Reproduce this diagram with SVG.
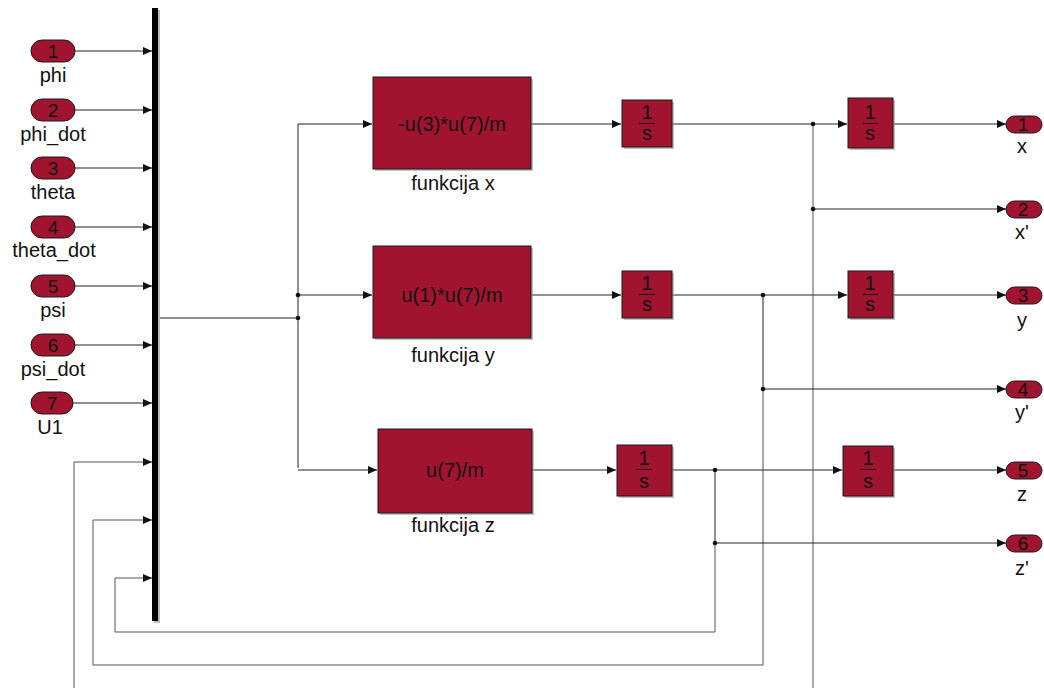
<svg xmlns="http://www.w3.org/2000/svg" width="1044" height="688" viewBox="0 0 1044 688">
<style>
.blk{fill:#A01430;stroke:#1a1a1a;stroke-width:1}
.sh{fill:#9a9a9a;opacity:0.6}
.port{fill:#A01430;stroke:#1a1a1a;stroke-width:1}
.t{font-family:"Liberation Sans",Arial,sans-serif;fill:#111;text-anchor:middle}
.bt{font-size:20px}
.lb{font-size:20px}
.pn{font-size:19px}
.fr{font-size:20px}
.ln{fill:none;stroke:#222;stroke-width:1}
.fb{fill:none;stroke:#555;stroke-width:1}
.dot{fill:#111}
</style>
<defs>
<marker id="ar" markerWidth="9" markerHeight="8" refX="9" refY="4" orient="auto" markerUnits="userSpaceOnUse">
<path d="M0,0 L9,4 L0,8 Z" fill="#111"/>
</marker>
</defs>
<rect width="1044" height="688" fill="#fff"/>

<g id="connectors">
<path class="ln" d="M75,51 H152" marker-end="url(#ar)"/>
<path class="ln" d="M75,110 H152" marker-end="url(#ar)"/>
<path class="ln" d="M75,168 H152" marker-end="url(#ar)"/>
<path class="ln" d="M75,227 H152" marker-end="url(#ar)"/>
<path class="ln" d="M75,286 H152" marker-end="url(#ar)"/>
<path class="ln" d="M75,345 H152" marker-end="url(#ar)"/>
<path class="ln" d="M73,403 H152" marker-end="url(#ar)"/>
<path class="fb" d="M74,688 V462 H152" marker-end="url(#ar)"/>
<path class="fb" d="M763,389 V665 H93 V520 H152" marker-end="url(#ar)"/>
<path class="fb" d="M715,543 V632 H115 V578 H152" marker-end="url(#ar)"/>
<path class="ln" d="M158,318 H298"/>
<path class="ln" d="M298,124 V468"/>
<path class="ln" d="M298,124 H372" marker-end="url(#ar)"/>
<path class="ln" d="M298,295 H372" marker-end="url(#ar)"/>
<path class="ln" d="M298,470 H377" marker-end="url(#ar)"/>
<path class="ln" d="M531,124 H621" marker-end="url(#ar)"/>
<path class="ln" d="M531,295 H621" marker-end="url(#ar)"/>
<path class="ln" d="M531,470 H616" marker-end="url(#ar)"/>
<path class="ln" d="M672,124 H847" marker-end="url(#ar)"/>
<path class="ln" d="M672,295 H847" marker-end="url(#ar)"/>
<path class="ln" d="M672,470 H842" marker-end="url(#ar)"/>
<path class="fb" d="M813,124 V688"/>
<path class="ln" d="M813,209 H1006" marker-end="url(#ar)"/>
<path class="ln" d="M763,295 V389 H1006" marker-end="url(#ar)"/>
<path class="ln" d="M715,470 V543 H1006" marker-end="url(#ar)"/>
<path class="ln" d="M893,124 H1006" marker-end="url(#ar)"/>
<path class="ln" d="M893,295 H1006" marker-end="url(#ar)"/>
<path class="ln" d="M893,470 H1006" marker-end="url(#ar)"/>
<circle class="dot" cx="298" cy="295" r="2.3"/>
<circle class="dot" cx="298" cy="318" r="2.3"/>
<circle class="dot" cx="813" cy="124" r="2.3"/>
<circle class="dot" cx="813" cy="209" r="2.3"/>
<circle class="dot" cx="763" cy="295" r="2.3"/>
<circle class="dot" cx="763" cy="389" r="2.3"/>
<circle class="dot" cx="715" cy="470" r="2.3"/>
<circle class="dot" cx="715" cy="543" r="2.3"/>
</g>

<g id="mux">
<rect x="154" y="10" width="6" height="613" fill="#bbb"/>
<rect x="152" y="8" width="6" height="613" fill="#000"/>
</g>

<g id="in1"><rect class="port" x="31" y="40" width="44" height="22" rx="11"/><text class="t pn" x="53" y="58">1</text><text class="t lb" x="53" y="82">phi</text></g>
<g id="in2"><rect class="port" x="31" y="99" width="44" height="22" rx="11"/><text class="t pn" x="53" y="117">2</text><text class="t lb" x="53" y="141">phi_dot</text></g>
<g id="in3"><rect class="port" x="31" y="157" width="44" height="22" rx="11"/><text class="t pn" x="53" y="175">3</text><text class="t lb" x="53" y="199">theta</text></g>
<g id="in4"><rect class="port" x="31" y="216" width="44" height="22" rx="11"/><text class="t pn" x="53" y="234">4</text><text class="t lb" x="54" y="257">theta_dot</text></g>
<g id="in5"><rect class="port" x="31" y="275" width="44" height="22" rx="11"/><text class="t pn" x="53" y="293">5</text><text class="t lb" x="53" y="317">psi</text></g>
<g id="in6"><rect class="port" x="31" y="334" width="44" height="22" rx="11"/><text class="t pn" x="53" y="352">6</text><text class="t lb" x="53" y="376">psi_dot</text></g>
<g id="in7"><rect class="port" x="31" y="392" width="42" height="22" rx="11"/><text class="t pn" x="52" y="410">7</text><text class="t lb" x="50" y="434">U1</text></g>

<g id="fx"><rect class="sh" x="375" y="79" width="158" height="92"/><rect class="blk" x="373" y="77" width="158" height="92"/><text class="t bt" x="452" y="131">-u(3)*u(7)/m</text><text class="t lb" x="453" y="190">funkcija x</text></g>
<g id="fy"><rect class="sh" x="375" y="248" width="158" height="92"/><rect class="blk" x="373" y="246" width="158" height="92"/><text class="t bt" x="452" y="302">u(1)*u(7)/m</text><text class="t lb" x="453" y="362">funkcija y</text></g>
<g id="fz"><rect class="sh" x="380" y="431" width="154" height="84"/><rect class="blk" x="378" y="429" width="154" height="84"/><text class="t bt" x="455" y="477">u(7)/m</text><text class="t lb" x="453" y="532">funkcija z</text></g>

<g id="int1x"><rect class="sh" x="624" y="102" width="50" height="47"/><rect class="blk" x="622" y="100" width="50" height="47"/><text class="t fr" x="647" y="119">1</text><path d="M639,123.5 H655" stroke="#111"/><text class="t fr" x="647" y="140">s</text></g>
<g id="int1y"><rect class="sh" x="624" y="273" width="50" height="47"/><rect class="blk" x="622" y="271" width="50" height="47"/><text class="t fr" x="647" y="290">1</text><path d="M639,294.5 H655" stroke="#111"/><text class="t fr" x="647" y="311">s</text></g>
<g id="int1z"><rect class="sh" x="619" y="447" width="55" height="51"/><rect class="blk" x="617" y="445" width="55" height="51"/><text class="t fr" x="644" y="465">1</text><path d="M636,469.5 H652" stroke="#111"/><text class="t fr" x="644" y="488">s</text></g>

<g id="int2x"><rect class="sh" x="850" y="100" width="45" height="50"/><rect class="blk" x="848" y="98" width="45" height="50"/><text class="t fr" x="870" y="119">1</text><path d="M863,123.5 H878" stroke="#111"/><text class="t fr" x="870" y="140">s</text></g>
<g id="int2y"><rect class="sh" x="850" y="273" width="45" height="47"/><rect class="blk" x="848" y="271" width="45" height="47"/><text class="t fr" x="870" y="290">1</text><path d="M863,294.5 H878" stroke="#111"/><text class="t fr" x="870" y="311">s</text></g>
<g id="int2z"><rect class="sh" x="845" y="448" width="50" height="50"/><rect class="blk" x="843" y="446" width="50" height="50"/><text class="t fr" x="868" y="465">1</text><path d="M860,469.5 H876" stroke="#111"/><text class="t fr" x="868" y="488">s</text></g>

<g id="out1"><rect class="port" x="1006" y="116" width="36" height="17" rx="8.5"/><text class="t pn" x="1023" y="131">1</text><text class="t lb" x="1022" y="153">x</text></g>
<g id="out2"><rect class="port" x="1006" y="201" width="36" height="17" rx="8.5"/><text class="t pn" x="1023" y="216">2</text><text class="t lb" x="1022" y="239">x'</text></g>
<g id="out3"><rect class="port" x="1006" y="287" width="36" height="17" rx="8.5"/><text class="t pn" x="1023" y="302">3</text><text class="t lb" x="1022" y="327">y</text></g>
<g id="out4"><rect class="port" x="1006" y="381" width="36" height="17" rx="8.5"/><text class="t pn" x="1023" y="396">4</text><text class="t lb" x="1022" y="419">y'</text></g>
<g id="out5"><rect class="port" x="1006" y="462" width="36" height="17" rx="8.5"/><text class="t pn" x="1023" y="477">5</text><text class="t lb" x="1022" y="501">z</text></g>
<g id="out6"><rect class="port" x="1006" y="535" width="36" height="17" rx="8.5"/><text class="t pn" x="1023" y="550">6</text><text class="t lb" x="1022" y="575">z'</text></g>
</svg>
